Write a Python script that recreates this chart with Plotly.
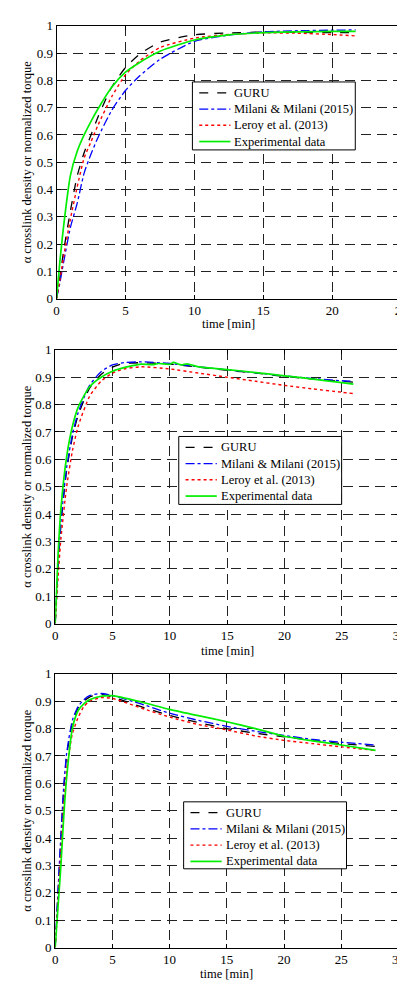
import plotly.graph_objects as go

series_names = ["GURU", "Milani & Milani (2015)", "Leroy et al. (2013)", "Experimental data"]

# Panel 1
t1 = [0, 0.25, 0.5, 1, 1.5, 2, 2.5, 3, 4, 5, 6, 7.5, 10, 12.5, 15, 17.5, 20, 21.7]
guru1 = [0, 0.08, 0.17, 0.32, 0.45, 0.535, 0.6, 0.665, 0.775, 0.847, 0.895, 0.94, 0.967, 0.974, 0.977, 0.976, 0.975, 0.975]
milani1 = [0, 0.06, 0.13, 0.26, 0.35, 0.46, 0.53, 0.59, 0.69, 0.763, 0.815, 0.877, 0.943, 0.966, 0.978, 0.982, 0.984, 0.985]
leroy1 = [0, 0.07, 0.15, 0.29, 0.41, 0.515, 0.575, 0.635, 0.74, 0.82, 0.87, 0.92, 0.955, 0.968, 0.974, 0.973, 0.968, 0.963]
exp1 = [0, 0.14, 0.26, 0.45, 0.54, 0.6, 0.65, 0.695, 0.775, 0.83, 0.865, 0.907, 0.948, 0.967, 0.975, 0.978, 0.98, 0.98]

# Panel 2
t2 = [0, 0.25, 0.5, 1, 1.5, 2, 3, 4, 5, 6, 7.5, 10, 12.5, 15, 17.5, 20, 22.5, 25, 26]
guru2 = [0, 0.2, 0.36, 0.56, 0.68, 0.76, 0.86, 0.91, 0.937, 0.95, 0.953, 0.948, 0.937, 0.925, 0.915, 0.903, 0.893, 0.885, 0.882]
milani2 = [0, 0.2, 0.37, 0.57, 0.69, 0.77, 0.87, 0.92, 0.945, 0.953, 0.956, 0.95, 0.938, 0.927, 0.916, 0.905, 0.895, 0.887, 0.885]
leroy2 = [0, 0.17, 0.31, 0.5, 0.63, 0.72, 0.83, 0.885, 0.915, 0.93, 0.938, 0.93, 0.915, 0.9, 0.885, 0.87, 0.857, 0.845, 0.84]
t2_exp = [0, 0.25, 0.5, 1, 1.5, 2, 3, 4, 5, 6, 7, 7.5, 8.5, 9, 10, 10.3, 11, 11.5, 12.5, 15, 17.5, 20, 22.5, 25, 26]
exp2 = [0, 0.25, 0.42, 0.61, 0.72, 0.79, 0.865, 0.9, 0.922, 0.935, 0.944, 0.948, 0.946, 0.95, 0.947, 0.954, 0.945, 0.949, 0.938, 0.928, 0.917, 0.905, 0.893, 0.88, 0.875]

# Panel 3
t3 = [0, 0.25, 0.5, 0.75, 1, 1.5, 2, 2.5, 3, 4, 5, 7.5, 10, 12.5, 15, 17.5, 20, 22.5, 25, 28]
guru3 = [0, 0.2, 0.4, 0.58, 0.7, 0.82, 0.875, 0.9, 0.915, 0.925, 0.915, 0.88, 0.848, 0.822, 0.8, 0.783, 0.77, 0.757, 0.745, 0.735]
milani3 = [0, 0.21, 0.41, 0.59, 0.71, 0.83, 0.88, 0.905, 0.92, 0.928, 0.921, 0.89, 0.856, 0.83, 0.808, 0.79, 0.775, 0.76, 0.75, 0.74]
leroy3 = [0, 0.17, 0.35, 0.52, 0.65, 0.78, 0.84, 0.88, 0.9, 0.913, 0.91, 0.875, 0.842, 0.815, 0.795, 0.773, 0.757, 0.745, 0.733, 0.72]
exp3 = [0, 0.15, 0.3, 0.48, 0.62, 0.8, 0.865, 0.89, 0.905, 0.918, 0.92, 0.897, 0.87, 0.847, 0.825, 0.8, 0.772, 0.755, 0.74, 0.72]

y_ticks = [0, 0.1, 0.2, 0.3, 0.4, 0.5, 0.6, 0.7, 0.8, 0.9, 1]
y_ticktext = ["0", "0.1", "0.2", "0.3", "0.4", "0.5", "0.6", "0.7", "0.8", "0.9", "1"]
x_ticks1 = [0, 5, 10, 15, 20, 25]
x_ticks23 = [0, 5, 10, 15, 20, 25, 30]

x_title = "time [min]"
y_title = "α crosslink density or normalized torque"

styles = [
    dict(color="black", dash="dash", width=1.3),
    dict(color="blue", dash="dashdot", width=1.3),
    dict(color="red", dash="dot", width=1.4),
    dict(color="#00ee00", dash="solid", width=1.7),
]

FONT = "Liberation Serif"
fig = go.Figure()

panels = [
    ([t1, t1, t1, t1], [guru1, milani1, leroy1, exp1], ""),
    ([t2, t2, t2, t2_exp], [guru2, milani2, leroy2, exp2], "2"),
    ([t3, t3, t3, t3], [guru3, milani3, leroy3, exp3], "3"),
]
for ts, ys, ax in panels:
    for name, t, y, st in zip(series_names, ts, ys, styles):
        fig.add_trace(go.Scatter(
            x=t, y=y, mode="lines", name=name, showlegend=False,
            line=dict(color=st["color"], dash=st["dash"], width=st["width"], shape="spline", smoothing=0.6),
            xaxis="x" + ax, yaxis="y" + ax,
        ))

H = 985.0
W = 405.0
def ydom(top, bottom):
    return [1 - bottom / H, 1 - top / H]

axis_common = dict(
    showline=True, linecolor="black", linewidth=1, mirror="ticks",
    ticks="inside", ticklen=4, tickcolor="black",
    showgrid=True, gridcolor="#222222", griddash="10px,6px", gridwidth=1,
    zeroline=False, tickfont=dict(family=FONT, size=13, color="black"),
)

layout = dict(
    width=405, height=985, margin=dict(l=0, r=0, t=0, b=0),
    paper_bgcolor="white", plot_bgcolor="white",
    font=dict(family=FONT, color="black"),
)

# (x-left px, x-right px, top px, bottom px, ticks, range, x-title centre y px)
doms = [
    (46.7, 400, 11, 288, x_ticks1, [0, 25], 313.5),
    (45.3, 398, 340, 618, x_ticks23, [0, 30], 646),
    (45.3, 397.3, 669, 947, x_ticks23, [0, 30], 974),
]
shapes = []
annotations = []
for i, (xl, xr_, yt, yb, xt, xr, xty) in enumerate(doms):
    suf = "" if i == 0 else str(i + 1)
    layout["xaxis" + suf] = dict(
        axis_common, domain=[xl / W, xr_ / W], range=xr, tickvals=xt, ticktext=[str(v) for v in xt],
        anchor="y" + suf,
    )
    layout["yaxis" + suf] = dict(
        axis_common, domain=ydom(yt, yb), range=[0, 1], tickvals=y_ticks, ticktext=y_ticktext,
        anchor="x" + suf,
    )
    annotations.append(dict(xref="paper", yref="paper", x=(xl + xr_) / 2 / W, y=1 - xty / H,
                            text=x_title, showarrow=False, xanchor="center", yanchor="middle",
                            font=dict(family=FONT, size=12.5, color="black")))
    annotations.append(dict(xref="paper", yref="paper", x=16.5 / W, y=1 - (yt + yb) / 2 / H,
                            text=y_title, showarrow=False, xanchor="center", yanchor="middle",
                            textangle=-90, font=dict(family=FONT, size=12.5, color="black")))

# Manual legends (box left, box top, box right, box bottom in pixels)
legend_boxes = [(186, 68, 353, 137), (172, 428, 339, 497), (177, 799, 344, 867)]
for (bl, bt, br, bb) in legend_boxes:
    shapes.append(dict(type="rect", xref="paper", yref="paper",
                       x0=bl / W, x1=br / W, y0=1 - bb / H, y1=1 - bt / H,
                       line=dict(color="black", width=1), fillcolor="white", layer="above"))
    for j, (name, st) in enumerate(zip(series_names, styles)):
        yc = bt + 11 + 16.5 * j
        shapes.append(dict(type="line", xref="paper", yref="paper",
                           x0=(bl + 7) / W, x1=(bl + 39) / W, y0=1 - yc / H, y1=1 - yc / H,
                           line=dict(color=st["color"], dash=st["dash"], width=st["width"]), layer="above"))
        annotations.append(dict(xref="paper", yref="paper", x=(bl + 41) / W, y=1 - yc / H,
                                text=name, showarrow=False, xanchor="left", yanchor="middle",
                                font=dict(family=FONT, size=12.5, color="black")))
layout["shapes"] = shapes
layout["annotations"] = annotations

fig.update_layout(**layout)
fig.write_html("out.html")
